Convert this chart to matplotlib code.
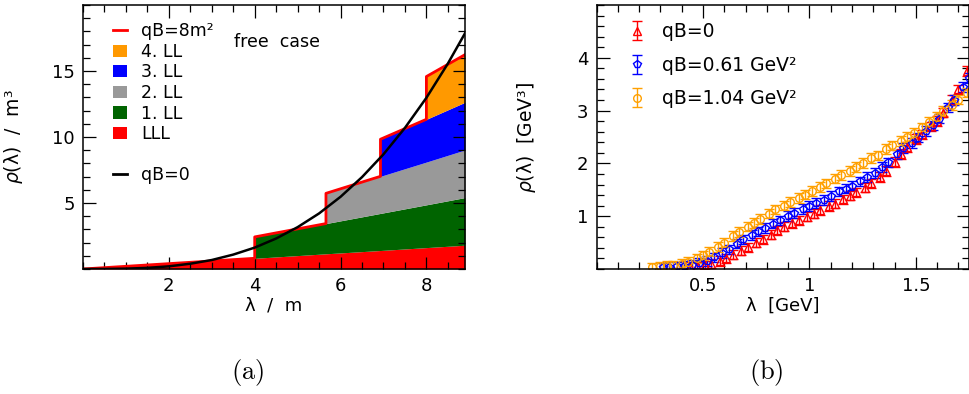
import numpy as np
import matplotlib
matplotlib.use("Agg")
import matplotlib.pyplot as plt
from matplotlib.lines import Line2D
from matplotlib.patches import Patch
from matplotlib.ticker import MultipleLocator, FormatStrFormatter

plt.rcParams['font.family'] = ['DejaVu Sans']
plt.rcParams['mathtext.fontset'] = 'dejavusans'

# ---- panel (a): free case, Landau level contributions ----
lam_nodes = [0.0, 4.0, 4.0, 5.66, 5.66, 6.93, 6.93, 8.0, 8.0, 8.9]
band_lll = [0.0, 0.81, 0.81, 1.15, 1.15, 1.40, 1.40, 1.62, 1.62, 1.80]
band_ll1 = [0.0, 0.0, 1.62, 2.29, 2.29, 2.81, 2.81, 3.24, 3.24, 3.61]
band_ll2 = [0.0, 0.0, 0.0, 0.0, 2.29, 2.81, 2.81, 3.24, 3.24, 3.61]
band_ll3 = [0.0, 0.0, 0.0, 0.0, 0.0, 0.0, 2.81, 3.24, 3.24, 3.61]
band_ll4 = [0.0, 0.0, 0.0, 0.0, 0.0, 0.0, 0.0, 0.0, 3.24, 3.61]
band_labels = ['LLL', '1. LL', '2. LL', '3. LL', '4. LL']
band_colors = ['#ff0000', '#006400', '#999999', '#0000ff', '#ff9900']

lam_free = [0.0, 0.5, 1.0, 1.5, 2.0, 2.5, 3.0, 3.5, 4.0, 4.5, 5.0, 5.5,
            6.0, 6.5, 7.0, 7.5, 8.0, 8.5, 8.9]
rho_free = [0.0, 0.003, 0.025, 0.085, 0.20, 0.40, 0.68, 1.09, 1.62, 2.31,
            3.17, 4.21, 5.47, 6.96, 8.69, 10.69, 12.97, 15.56, 17.86]

# ---- panel (b): lattice data ----
lam_q0 = [0.44, 0.47, 0.51, 0.54, 0.58, 0.61, 0.64, 0.68, 0.71, 0.75, 0.78,
          0.82, 0.85, 0.88, 0.92, 0.95, 0.99, 1.02, 1.05, 1.09, 1.12, 1.16,
          1.19, 1.22, 1.26, 1.29, 1.33, 1.36, 1.40, 1.43, 1.46, 1.50, 1.53,
          1.57, 1.60, 1.63, 1.67, 1.70, 1.74]
rho_q0 = [0.04, 0.05, 0.07, 0.10, 0.15, 0.20, 0.27, 0.35, 0.41, 0.50, 0.56,
          0.65, 0.73, 0.80, 0.87, 0.92, 0.99, 1.05, 1.12, 1.19, 1.24, 1.32,
          1.39, 1.45, 1.54, 1.62, 1.74, 1.86, 2.03, 2.18, 2.31, 2.46, 2.55,
          2.70, 2.80, 2.96, 3.20, 3.40, 3.75]
lam_q1 = [0.31, 0.34, 0.38, 0.41, 0.45, 0.48, 0.52, 0.55, 0.59, 0.62, 0.66,
          0.69, 0.73, 0.76, 0.79, 0.83, 0.86, 0.90, 0.93, 0.97, 1.00, 1.03,
          1.07, 1.10, 1.14, 1.17, 1.20, 1.24, 1.27, 1.31, 1.34, 1.37, 1.41,
          1.44, 1.48, 1.51, 1.55, 1.58, 1.61, 1.65, 1.68, 1.72, 1.75]
rho_q1 = [0.03, 0.04, 0.05, 0.06, 0.08, 0.11, 0.15, 0.22, 0.30, 0.37, 0.48,
          0.56, 0.64, 0.71, 0.78, 0.86, 0.92, 1.00, 1.06, 1.14, 1.19, 1.25,
          1.31, 1.38, 1.47, 1.52, 1.58, 1.66, 1.74, 1.82, 1.93, 2.02, 2.17,
          2.29, 2.39, 2.49, 2.61, 2.72, 2.85, 3.06, 3.20, 3.45, 3.62]
lam_q2 = [0.26, 0.30, 0.33, 0.36, 0.40, 0.43, 0.47, 0.50, 0.53, 0.57, 0.60,
          0.64, 0.67, 0.71, 0.74, 0.77, 0.81, 0.84, 0.88, 0.91, 0.95, 0.98,
          1.01, 1.05, 1.08, 1.12, 1.15, 1.19, 1.22, 1.25, 1.29, 1.32, 1.36,
          1.39, 1.43, 1.46, 1.49, 1.53, 1.56, 1.60, 1.63, 1.67, 1.70, 1.74]
rho_q2 = [0.03, 0.05, 0.06, 0.07, 0.10, 0.14, 0.20, 0.26, 0.33, 0.42, 0.50,
          0.62, 0.70, 0.80, 0.87, 0.95, 1.05, 1.13, 1.20, 1.27, 1.34, 1.41,
          1.48, 1.55, 1.62, 1.71, 1.78, 1.86, 1.93, 2.01, 2.10, 2.15, 2.27,
          2.34, 2.42, 2.50, 2.58, 2.68, 2.78, 2.88, 2.99, 3.11, 3.21, 3.34]
err_q = [0.09, 0.09, 0.09]
series_labels = ['qB=0', 'qB=0.61 GeV²', 'qB=1.04 GeV²']
series_colors = ['#ff0000', '#0000ff', '#ffa000']
series_markers = ['^', 'p', 'o']

fig = plt.figure(figsize=(9.7, 3.94), dpi=100)
ax1 = fig.add_axes([0.0856, 0.3173, 0.3938, 0.670])
ax2 = fig.add_axes([0.615, 0.3173, 0.384, 0.670])

# stacked bands
bands = [band_lll, band_ll1, band_ll2, band_ll3, band_ll4]
lower = np.zeros(len(lam_nodes))
for b, c in zip(bands, band_colors):
    upper = lower + np.array(b)
    ax1.fill_between(lam_nodes, lower, upper, color=c, linewidth=0)
    lower = upper
ax1.plot(lam_nodes, lower, color='#ff0000', lw=2)
ax1.plot(lam_free, rho_free, color='black', lw=1.8)

ax1.set_xlim(0, 8.9)
ax1.set_ylim(0, 20)
ax1.xaxis.set_minor_locator(MultipleLocator(0.5))
ax1.yaxis.set_minor_locator(MultipleLocator(1))
ax1.set_xticks([2, 4, 6, 8])
ax1.set_yticks([5, 10, 15])
ax1.set_xlabel('λ  /  m', fontsize=13)
ax1.set_ylabel(r'$\rho$(λ)  /  m³', fontsize=13.5)
ax1.xaxis.set_label_coords(0.5, -0.105)
ax1.yaxis.set_label_coords(-0.152, 0.5)
ax1.text(0.395, 0.84, 'free  case', transform=ax1.transAxes, fontsize=12.5)

handles = [Line2D([], [], color='#ff0000', lw=2)]
labels = ['qB=8m²']
for lab, c in zip(band_labels[::-1], band_colors[::-1]):
    handles.append(Patch(facecolor=c, edgecolor='none'))
    labels.append(lab)
handles.append(Line2D([], [], color='none'))
labels.append(' ')
handles.append(Line2D([], [], color='black', lw=2))
labels.append('qB=0')
ax1.legend(handles, labels, loc='upper left', bbox_to_anchor=(0.078, 0.935),
           frameon=False, fontsize=12.5, handlelength=0.8, handleheight=0.7,
           handletextpad=0.85, labelspacing=0.15, borderpad=0, borderaxespad=0)

# lattice data
for lam, rho, e, lab, c, m in zip([lam_q0, lam_q1, lam_q2], [rho_q0, rho_q1, rho_q2],
                                  err_q, series_labels, series_colors, series_markers):
    ax2.errorbar(lam, rho, yerr=e, fmt=m, color=c, mfc='none', mec=c, ms=5.5,
                 mew=1, elinewidth=1, capsize=3.5, capthick=2, label=lab)
ax2.set_xlim(0, 1.75)
ax2.set_ylim(0, 5)
ax2.set_xticks([0.5, 1, 1.5])
ax2.xaxis.set_major_formatter(FormatStrFormatter('%g'))
ax2.xaxis.set_minor_locator(MultipleLocator(0.1))
ax2.set_yticks([1, 2, 3, 4])
ax2.yaxis.set_minor_locator(MultipleLocator(0.2))
ax2.set_xlabel('λ  [GeV]', fontsize=13)
ax2.set_ylabel(r'$\rho$(λ)  [GeV³]', fontsize=13.5)
ax2.xaxis.set_label_coords(0.5, -0.105)
ax2.yaxis.set_label_coords(-0.158, 0.5)
ax2.legend(loc='upper left', bbox_to_anchor=(0.085, 0.935), frameon=False,
           fontsize=13.5, handlelength=0.9, handletextpad=0.9,
           labelspacing=0.78, borderpad=0, borderaxespad=0)

for ax in (ax1, ax2):
    ax.tick_params(which='both', direction='in', top=True, right=True,
                   labelsize=13, width=0.9)
    ax.tick_params(which='major', length=9, pad=6)
    ax.tick_params(which='minor', length=5)
    for s in ax.spines.values():
        s.set_linewidth(1.1)

fig.text(248 / 970, 1 - 372 / 394, r'$\mathrm{(a)}$', fontsize=19,
         ha='center', va='center', math_fontfamily='cm')
fig.text(766 / 970, 1 - 372 / 394, r'$\mathrm{(b)}$', fontsize=19,
         ha='center', va='center', math_fontfamily='cm')

fig.savefig('out.png', dpi=100)
